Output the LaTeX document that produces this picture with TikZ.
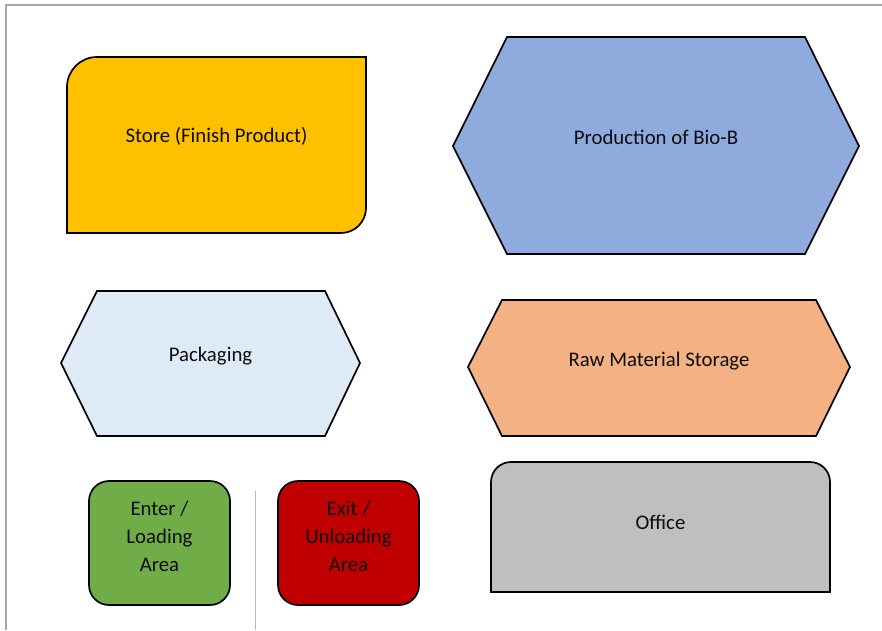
\documentclass[tikz,border=0pt]{standalone}
\usepackage{fontspec}
\setmainfont{Carlito}
\definecolor{storeY}{HTML}{FFC000}
\definecolor{prodB}{HTML}{8FAADC}
\definecolor{packB}{HTML}{DEEBF7}
\definecolor{rawO}{HTML}{F4B183}
\definecolor{enterG}{HTML}{70AD47}
\definecolor{exitR}{HTML}{C00000}
\definecolor{officeG}{HTML}{BFBFBF}
\definecolor{frameG}{HTML}{A6A6A6}
\definecolor{ink}{HTML}{0D0D0D}
\begin{document}
\begin{tikzpicture}[x=1pt,y=-1pt,
  area/.style={draw=black,line width=1.7pt,line join=miter},
  label/.style={font=\fontsize{20.8}{28}\selectfont,text=ink,align=center,inner sep=0pt},
  gate/.style={area,rounded corners=20pt,minimum width=141pt,minimum height=124pt,
               inner sep=0pt}]
\useasboundingbox (0,0) rectangle (882,630);
\fill[white] (0,0) rectangle (882,630);
% page frame
\draw[frameG,line width=2pt] (6,630) -- (6,5) -- (882,5);
\draw[frameG!80,line width=1pt] (255,491) -- (255,630);
% store for finished product
\draw[area,fill=storeY] (67,233) -- (67,87) arc(180:270:30) -- (366,57)
  -- (366,208) arc(0:90:25) -- cycle;
\node[label] (store) at (216.5,136) {Store (Finish Product)};
% production hall
\draw[area,fill=prodB] (507,37) -- (805,37) -- (859,146) -- (805,254)
  -- (507,254) -- (453,146) -- cycle;
\node[label] (prod) at (656,137) {Production of Bio-B};
% packaging
\draw[area,fill=packB] (97,291) -- (325,291) -- (360,363) -- (325,436)
  -- (97,436) -- (61,363) -- cycle;
\node[label] (pack) at (210.5,356) {Packaging};
% raw material storage
\draw[area,fill=rawO] (502,300) -- (816,300) -- (850,367) -- (816,436)
  -- (502,436) -- (468,367) -- cycle;
\node[label] (raw) at (659,361) {Raw Material Storage};
% office
\draw[area,fill=officeG] (491,592) -- (491,482) arc(180:270:20) -- (810,462)
  arc(270:360:20) -- (830,592) -- cycle;
\node[label] (office) at (660.5,522) {Office};
% gates
\node[gate,fill=enterG] (enter) at (159.5,543) {};
\node[label] (enterText) at (159.5,536) {Enter /\\Loading\\Area};
\node[gate,fill=exitR] (exit) at (348.5,543) {};
\node[label] (exitText) at (348.5,536) {Exit /\\Unloading\\Area};
\end{tikzpicture}
\end{document}
